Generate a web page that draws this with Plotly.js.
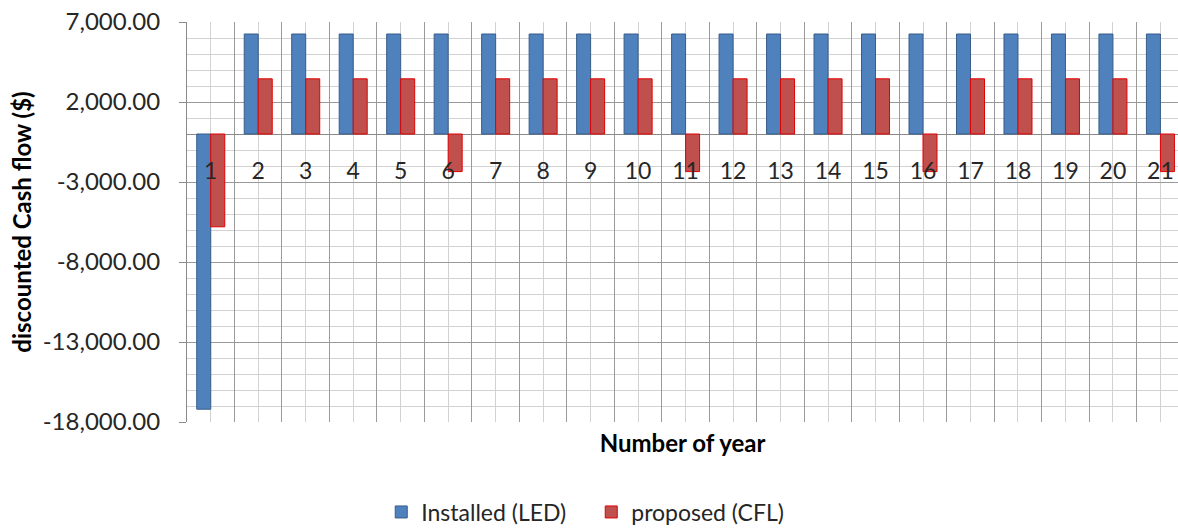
<!DOCTYPE html>
<html>
<head>
<meta charset="utf-8">
<script src="https://cdn.plot.ly/plotly-3.0.1.min.js"></script>
<style>html,body{margin:0;padding:0;background:#fff;}#chart{width:1178px;height:528px;}</style>
</head>
<body>
<div id="chart"></div>
<script>
var years = [1,2,3,4,5,6,7,8,9,10,11,12,13,14,15,16,17,18,19,20,21];
var yearLabels = ["1","2","3","4","5","6","7","8","9","10","11","12","13","14","15","16","17","18","19","20","21"];
var installedLED = [-17200,6250,6250,6250,6250,6250,6250,6250,6250,6250,6250,6250,6250,6250,6250,6250,6250,6250,6250,6250,6250];
var proposedCFL = [-5800,3450,3450,3450,3450,-2350,3450,3450,3450,3450,-2350,3450,3450,3450,3450,-2350,3450,3450,3450,3450,-2350];
var yTickVals = [-18000,-13000,-8000,-3000,2000,7000];
var yTickText = ["-18,000.00","-13,000.00","-8,000.00","-3,000.00","2,000.00","7,000.00"];

var FONT = "Lato, 'Open Sans', sans-serif";
var xr = [0.5, 21.37];

var traces = [
  {type:'bar', name:'Installed (LED)', x:years, y:installedLED, xaxis:'x', yaxis:'y',
   marker:{color:'#4F81BD', line:{color:'#385D8A', width:1}}, hoverinfo:'skip'},
  {type:'bar', name:'proposed (CFL)', x:years, y:proposedCFL, xaxis:'x', yaxis:'y',
   marker:{color:'#C0504D', line:{color:'#E00000', width:1}}, hoverinfo:'skip'},
  {type:'scatter', mode:'none', x:years, y:installedLED, xaxis:'x2', yaxis:'y', showlegend:false, hoverinfo:'skip'}
];

var layout = {
  width:1178, height:528,
  margin:{l:187, r:0, t:22, b:106, autoexpand:false},
  paper_bgcolor:'#fff', plot_bgcolor:'#fff',
  font:{family:FONT, color:'#262626', size:23},
  barmode:'group', bargap:0.41, bargroupgap:0,
  showlegend:true,
  legend:{orientation:'h', x:0.196, xanchor:'left', y:-0.225, yanchor:'middle',
          entrywidth:165, entrywidthmode:'pixels',
          font:{family:FONT, size:23, color:'#262626'}, traceorder:'normal', itemwidth:30},
  xaxis:{type:'linear', range:xr, tick0:0.5, dtick:1, showticklabels:false, automargin:false,
         showgrid:true, gridcolor:'#9a9a9a', gridwidth:1, zeroline:false, showline:false, ticks:'',
         minor:{tick0:0.5, dtick:0.5, showgrid:true, gridcolor:'#d2d2d2', gridwidth:1},
         title:{text:'<b>Number of year</b>', font:{family:FONT, size:24, color:'#000'}, standoff:13}},
  xaxis2:{type:'linear', overlaying:'x', anchor:'free', position:0.72, side:'bottom', range:xr,
          tickmode:'array', tickvals:years, ticktext:yearLabels, showgrid:false, zeroline:false,
          showline:false, ticks:'outside', ticklen:16, tickcolor:'rgba(0,0,0,0)', automargin:false,
          tickfont:{family:FONT, size:23, color:'#262626'}},
  yaxis:{range:[-18000,7000], tickmode:'array', tickvals:yTickVals, ticktext:yTickText, automargin:false,
         showgrid:true, gridcolor:'#9a9a9a', gridwidth:1,
         minor:{tick0:-18000, dtick:1000, showgrid:true, gridcolor:'#d2d2d2', gridwidth:1},
         zeroline:true, zerolinecolor:'#8a8a8a', zerolinewidth:1,
         showline:true, linecolor:'#8a8a8a', linewidth:1,
         ticks:'outside', ticklen:7, tickcolor:'#8a8a8a', ticklabelstandoff:14,
         tickfont:{family:FONT, size:24, color:'#262626'},
         title:{text:'<b>discounted Cash flow ($)</b>', font:{family:FONT, size:24, color:'#000'}, standoff:4}}
};

Plotly.newPlot('chart', traces, layout, {staticPlot:true, displayModeBar:false});
</script>
</body>
</html>
